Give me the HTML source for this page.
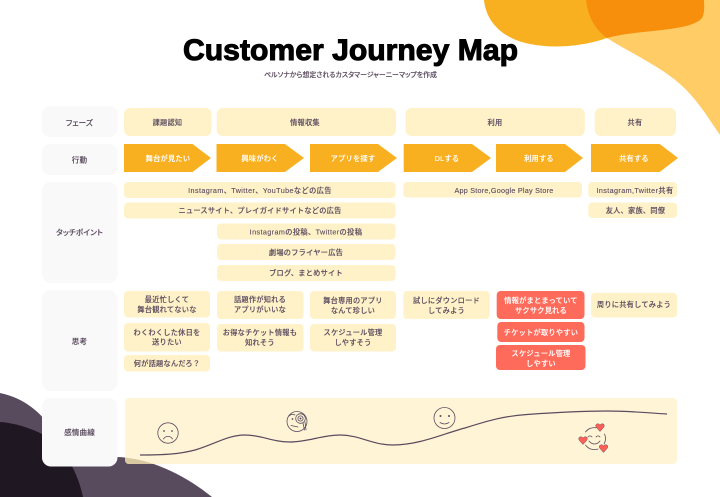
<!DOCTYPE html>
<html lang="ja">
<head>
<meta charset="utf-8">
<title>Customer Journey Map</title>
<style>
html,body{margin:0;padding:0;background:#fff;width:720px;height:497px;overflow:hidden}
svg{display:block}
text{font-family:"Liberation Sans","Noto Sans CJK JP",sans-serif;text-anchor:middle;font-size:7.2px;font-weight:500;fill:#5a4b5e;stroke:#5a4b5e;stroke-width:.12px;letter-spacing:.25px}
.w{fill:#fff;stroke:#fff;font-weight:500}
.p{font-feature-settings:"palt";font-size:7.6px;letter-spacing:.1px}
.t{letter-spacing:.4px}
.c{fill:#fff2c8}
.e{fill:#fff5d6}
.l{fill:#f9f9f9}
.a{fill:#f9b020}
.r{fill:#ff6b5b}
.i{fill:none;stroke:#5a4b5e;stroke-width:.8;stroke-linecap:round}
.h{fill:#ff5f55;stroke:#5a4b5e;stroke-width:.5}
</style>
</head>
<body>
<svg width="720" height="497" viewBox="0 0 720 497" xmlns="http://www.w3.org/2000/svg">
<defs>
<clipPath id="o"><path d="M484 0C486 20 500 38 530 44C560 50 590 44 607 38C640 29 690 32 702 18C705 12 704 5 704 0Z"/></clipPath>
<clipPath id="p"><path d="M0 393C20 397 35 408 45 420L117 457C150 458 185 475 212 497L0 497Z"/></clipPath>
</defs>

<!-- blobs -->
<path d="M586 0C588 18 596 30 607 38C625 50 660 66 680 84C698 100 708 118 720 135L720 0Z" fill="#ffcc66"/>
<path d="M484 0C486 20 500 38 530 44C560 50 590 44 607 38C640 29 690 32 702 18C705 12 704 5 704 0Z" fill="#f9b020"/>
<path d="M586 0C588 18 596 30 607 38C625 50 660 66 680 84C698 100 708 118 720 135L720 0Z" fill="#f78f0d" clip-path="url(#o)"/>
<path d="M0 393C20 397 35 408 45 420L117 457C150 458 185 475 212 497L0 497Z" fill="#584b5e"/>
<path d="M0 422C15 423 30 428 42 434C60 444 76 465 83 497L0 497Z" fill="#1f1722"/>

<!-- title -->
<text x="350.500" y="60" style="font-size:29.5px;font-weight:700;fill:#000;stroke:#000;stroke-width:1px;letter-spacing:0" textLength="335" lengthAdjust="spacingAndGlyphs">Customer Journey Map</text>
<text class="p" x="350.500" y="77" style="font-size:6.9px;letter-spacing:0">ペルソナから想定されるカスタマージャーニーマップを作成</text>

<!-- row labels -->
<rect class="l" x="42" y="106" width="75.500" height="31" rx="8"/>
<rect class="l" x="42" y="144" width="75.500" height="31" rx="8"/>
<rect class="l" x="42" y="182" width="75.500" height="101" rx="9"/>
<rect class="l" x="42" y="290" width="75.500" height="101" rx="9"/>
<rect class="e" x="125" y="398" width="552" height="66" rx="4"/>
<rect x="125" y="398" width="552" height="66" rx="4" fill="#d9c9a3" clip-path="url(#p)"/>
<rect class="l" x="42" y="398" width="75.500" height="68.500" rx="9"/>
<text class="p" x="79.500" y="125.500">フェーズ</text>
<text class="p" x="79.500" y="162.500">行動</text>
<text class="p" x="79.500" y="235">タッチポイント</text>
<text class="p" x="79.500" y="344">思考</text>
<text class="p" x="79.500" y="435">感情曲線</text>

<!-- phases -->
<rect class="c" x="124" y="108" width="87.500" height="28" rx="6"/>
<rect class="c" x="216.700" y="108" width="179.300" height="28" rx="6"/>
<rect class="c" x="405.500" y="108" width="179.300" height="28" rx="6"/>
<rect class="c" x="594.700" y="108" width="81.300" height="28" rx="6"/>
<text x="167.500" y="125">課題認知</text>
<text x="305" y="125">情報収集</text>
<text x="495" y="125">利用</text>
<text x="635" y="125">共有</text>

<!-- actions -->
<polygon class="a" points="124,144 192.500,144 211,158 192.500,172 124,172"/>
<polygon class="a" points="216.500,144 285,144 304,158 285,172 216.500,172"/>
<polygon class="a" points="310,144 378,144 397,158 378,172 310,172"/>
<polygon class="a" points="403.700,144 472,144 491,158 472,172 403.700,172"/>
<polygon class="a" points="496,144 565,144 583,158 565,172 496,172"/>
<polygon class="a" points="591,144 659.700,144 678,158 659.700,172 591,172"/>
<text class="w" x="168" y="161">舞台が見たい</text>
<text class="w" x="260" y="161">興味がわく</text>
<text class="w" x="353" y="161">アプリを探す</text>
<text class="w" x="447" y="161">DLする</text>
<text class="w" x="539" y="161">利用する</text>
<text class="w" x="634" y="161">共有する</text>

<!-- touchpoints -->
<rect class="c" x="124" y="182" width="271.500" height="16" rx="4"/>
<rect class="c" x="124" y="202.500" width="271.500" height="16" rx="4"/>
<rect class="c" x="217" y="223.500" width="178.500" height="16" rx="4"/>
<rect class="c" x="217" y="244" width="178.500" height="16" rx="4"/>
<rect class="c" x="217" y="265" width="178.500" height="16" rx="4"/>
<rect class="c" x="403.300" y="182" width="178.700" height="15.500" rx="4"/>
<rect class="c" x="588.300" y="182" width="88.700" height="15.500" rx="4"/>
<rect class="c" x="588.300" y="202.500" width="88.700" height="15.500" rx="4"/>
<text class="t" x="260" y="193">Instagram、Twitter、YouTubeなどの広告</text>
<text x="260" y="213">ニュースサイト、プレイガイドサイトなどの広告</text>
<text class="t" x="306" y="234.500">Instagramの投稿、Twitterの投稿</text>
<text x="306" y="255">劇場のフライヤー広告</text>
<text x="306" y="275.500">ブログ、まとめサイト</text>
<text x="504" y="193">App Store,Google Play Store</text>
<text class="t" x="635" y="193">Instagram,Twitter共有</text>
<text x="635.500" y="213">友人、家族、同僚</text>

<!-- thoughts -->
<rect class="c" x="124" y="291" width="86" height="26.500" rx="4"/>
<rect class="c" x="124" y="323" width="86" height="28.500" rx="4"/>
<rect class="c" x="124" y="355" width="86" height="16.500" rx="4"/>
<rect class="c" x="217" y="291" width="86.500" height="28" rx="4"/>
<rect class="c" x="217" y="324" width="86.500" height="27.500" rx="4"/>
<rect class="c" x="310" y="291" width="86" height="28" rx="4"/>
<rect class="c" x="310" y="324" width="86" height="27.500" rx="4"/>
<rect class="c" x="403.300" y="291" width="86.400" height="28" rx="4"/>
<rect class="r" x="496.700" y="291" width="87.800" height="28" rx="4"/>
<rect class="r" x="497.300" y="322" width="87.200" height="20" rx="4"/>
<rect class="r" x="496" y="345" width="89.500" height="25" rx="4"/>
<rect class="c" x="591" y="292.700" width="86" height="24.800" rx="4"/>

<text x="167" y="302">最近忙しくて</text>
<text x="167" y="312">舞台観れてないな</text>
<text x="167" y="335">わくわくした休日を</text>
<text x="167" y="344.500">送りたい</text>
<text x="167" y="366">何が話題なんだろ？</text>
<text x="260" y="302">話題作が知れる</text>
<text x="260" y="312">アプリがいいな</text>
<text x="260" y="335">お得なチケット情報も</text>
<text x="260" y="345">知れそう</text>
<text x="353" y="303">舞台専用のアプリ</text>
<text x="353" y="313">なんて珍しい</text>
<text x="353" y="335">スケジュール管理</text>
<text x="353" y="345">しやすそう</text>
<text x="446.500" y="303">試しにダウンロード</text>
<text x="446.500" y="313">してみよう</text>
<text class="w" x="541" y="303">情報がまとまっていて</text>
<text class="w" x="541" y="313">サクサク見れる</text>
<text class="w" x="541" y="335">チケットが取りやすい</text>
<text class="w" x="541" y="356">スケジュール管理</text>
<text class="w" x="541" y="366">しやすい</text>
<text x="634" y="307">周りに共有してみよう</text>

<!-- emotion curve -->
<path d="M140 455C165 455 180 454 195 450C215 444 228 435 245 435C262 435 272 442 290 442C308 442 322 435 340 435C360 435 372 445 393 445C420 445 445 433 465 428C490 420 505 416 527 414.500C555 412.500 585 411 607 411C630 411 650 413 667 414" fill="none" stroke="#5a4b5e" stroke-width="1.200"/>

<!-- sad -->
<circle class="i" cx="168" cy="433" r="10.200"/>
<circle cx="164" cy="431" r=".9" fill="#5a4b5e"/>
<circle cx="172" cy="431" r=".9" fill="#5a4b5e"/>
<path class="i" d="M163.500 439C165.500 435.500 170.500 435.500 172.500 439"/>

<!-- curious -->
<circle class="i" cx="297" cy="421.500" r="10"/>
<circle class="i" cx="300.500" cy="418.500" r="4.800"/>
<circle class="i" cx="300.500" cy="418.500" r="2.600"/>
<circle cx="300.500" cy="418.500" r="1" fill="#5a4b5e"/>
<circle cx="292.500" cy="419" r=".9" fill="#5a4b5e"/>
<path class="i" d="M289 416C291 414 293 414 295 415M305 422L306 430M303 423L304.500 430M291 425.500L298 427"/>

<!-- smile -->
<circle class="i" cx="444.500" cy="418" r="10.500"/>
<circle cx="440.500" cy="416" r="1" fill="#5a4b5e"/>
<circle cx="449" cy="416" r="1" fill="#5a4b5e"/>
<path class="i" d="M440 422.500C443 424.500 446 424.500 449 422.500"/>

<!-- love -->
<path class="i" d="M585.500 432A10.800 10.800 0 0 1 596 427.800M604.500 434A10.800 10.800 0 0 1 604 444M585.500 445A10.800 10.800 0 0 0 598 449"/>
<path class="i" d="M588 437C589 435.500 591 435.500 592 437M596 437C597 435.500 599 435.500 600 437M589 441C592 445 597 445 600 441"/>
<path class="h" d="M600 431.500L596.500 427.500C595 425.500 596 423.800 598 423.800C599 423.800 600 424.800 600 425.300C600 424.800 601 423.800 602.500 423.800C604 423.800 605 425.500 603.500 427.500Z"/>
<path class="h" d="M583 444.500L579.500 440.500C578 438.500 579 436.800 581 436.800C582 436.800 583 437.800 583 438.300C583 437.800 584 436.800 585.500 436.800C587 436.800 588 438.500 586.500 440.500Z"/>
<path class="h" d="M603.500 452.500L600 448.500C598.500 446.500 599.500 444.800 601.500 444.800C602.500 444.800 603.500 445.800 603.500 446.300C603.500 445.800 604.500 444.800 606 444.800C607.500 444.800 608.500 446.500 607 448.500Z"/>
</svg>
</body>
</html>
